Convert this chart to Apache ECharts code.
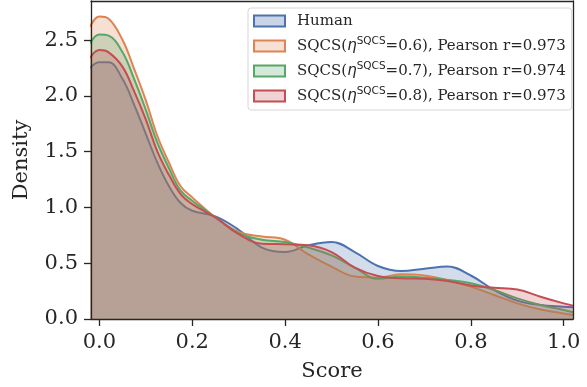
<!DOCTYPE html>
<html>
<head>
<meta charset="utf-8">
<script src="https://cdn.jsdelivr.net/npm/echarts@6/dist/echarts.min.js"></script>
<style>
  html, body { margin: 0; padding: 0; background: #fff; }
  #chart { width: 587px; height: 387px; }
</style>
</head>
<body>
<div id="chart"></div>
<script>
// KDE curves
const xs = [-0.02, 0, 0.02, 0.05, 0.075, 0.1, 0.125, 0.15, 0.175, 0.2, 0.25, 0.3, 0.35, 0.4, 0.45,
  0.5, 0.55, 0.6, 0.65, 0.7, 0.75, 0.8, 0.85, 0.9, 0.95, 1.0, 1.02];
const human = [2.25, 2.30, 2.30, 2.15, 1.92, 1.66, 1.40, 1.19, 1.04, 0.97, 0.92, 0.80, 0.64, 0.60, 0.66,
  0.69, 0.60, 0.475, 0.43, 0.45, 0.47, 0.39, 0.26, 0.165, 0.125, 0.11, 0.105];
const sqcs06 = [2.62, 2.71, 2.69, 2.50, 2.24, 1.96, 1.64, 1.40, 1.19, 1.09, 0.91, 0.78, 0.74, 0.71, 0.58,
  0.47, 0.38, 0.37, 0.40, 0.39, 0.35, 0.29, 0.215, 0.14, 0.085, 0.05, 0.035];
const sqcs07 = [2.47, 2.55, 2.54, 2.39, 2.15, 1.875, 1.58, 1.35, 1.15, 1.06, 0.91, 0.77, 0.71, 0.69, 0.64,
  0.57, 0.46, 0.36, 0.38, 0.37, 0.35, 0.32, 0.26, 0.185, 0.125, 0.08, 0.06];
const sqcs08 = [2.34, 2.41, 2.39, 2.26, 2.04, 1.79, 1.50, 1.29, 1.12, 1.03, 0.91, 0.76, 0.675, 0.67, 0.66,
  0.60, 0.46, 0.385, 0.365, 0.36, 0.34, 0.30, 0.28, 0.265, 0.20, 0.14, 0.12];

const etas = ["0.6", "0.7", "0.8"];
const pearson = ["0.973", "0.974", "0.973"];
const xTicks = [0, 0.2, 0.4, 0.6, 0.8, 1.0];
const yTicks = [0, 0.5, 1.0, 1.5, 2.0, 2.5];

const colors = ["#4C72B0", "#DD8452", "#55A868", "#C44E52"];
const fills = ["rgba(76,114,176,0.3)", "rgba(221,132,82,0.25)", "rgba(85,168,104,0.25)", "rgba(196,78,82,0.25)"];
const names = ["Human", "SQCS 0.6", "SQCS 0.7", "SQCS 0.8"];
const curves = [human, sqcs06, sqcs07, sqcs08];

const ink = "#262626";
const serif = "DejaVu Serif";

const chart = echarts.init(document.getElementById("chart"));

// later series sit on top, so their fills tint the earlier lines
const series = curves.map((vals, i) => ({
  name: names[i],
  type: "line",
  z: 2 + i,
  data: xs.map((x, j) => [x, vals[j]]),
  smooth: 0.4,
  showSymbol: false,
  lineStyle: { color: colors[i], width: 2 },
  itemStyle: { color: colors[i] },
  areaStyle: { color: colors[i], opacity: 0.25 },
  emphasis: { disabled: true },
}));

const frameAxis = {
  show: true,
  axisLine: { show: true, onZero: false, lineStyle: { color: ink, width: 1.3 } },
  axisTick: { show: false },
  axisLabel: { show: false },
  splitLine: { show: false },
  z: 10,
};

chart.setOption({
  animation: false,
  grid: { left: 91, right: 14, top: 1, bottom: 67 },
  legend: {
    left: 248,
    top: 8,
    z: 20,
    orient: "vertical",
    icon: "rect",
    itemWidth: 31,
    itemHeight: 11,
    itemGap: 5,
    padding: [3, 6, 4, 5],
    backgroundColor: "#fff",
    borderColor: "#d6d6d6",
    borderWidth: 1,
    borderRadius: 3,
    data: names.map((n, i) => ({
      name: n,
      itemStyle: { color: fills[i], borderColor: colors[i], borderWidth: 2 },
    })),
    formatter: (name) => {
      const i = names.indexOf(name);
      if (i === 0) return "{t|Human}";
      return "{t|SQCS(}{eta|η}{sup|SQCS}{t|=" + etas[i - 1] + "), Pearson r=" + pearson[i - 1] + "}";
    },
    textStyle: {
      color: ink,
      padding: [0, 0, 0, 7],
      lineHeight: 20,
      rich: {
        t: { fontFamily: serif, fontSize: 15, color: ink, lineHeight: 20 },
        eta: { fontFamily: "DejaVu Sans", fontStyle: "italic", fontSize: 15, color: ink, lineHeight: 20 },
        sup: { fontFamily: "DejaVu Sans", fontSize: 10.5, color: ink, padding: [0, 0, 9, 0], lineHeight: 20 },
      },
    },
  },
  xAxis: [
    {
      type: "value",
      min: -0.018,
      max: 1.02,
      name: "Score",
      nameLocation: "middle",
      nameGap: 42,
      nameTextStyle: { fontFamily: serif, fontSize: 21, color: ink },
      axisLine: { show: true, onZero: false, lineStyle: { color: ink, width: 1.3 } },
      axisTick: { show: true, length: 7, lineStyle: { color: ink, width: 1.3 }, customValues: xTicks },
      axisLabel: {
        customValues: xTicks,
        formatter: (v) => v.toFixed(1),
        fontFamily: serif,
        fontSize: 21,
        color: ink,
        margin: 13,
      },
      splitLine: { show: false },
      z: 10,
    },
    Object.assign({ type: "value", position: "top", min: -0.018, max: 1.02 }, frameAxis),
  ],
  yAxis: [
    {
      type: "value",
      min: 0,
      max: 2.85,
      name: "Density",
      nameLocation: "middle",
      nameGap: 59,
      nameTextStyle: { fontFamily: serif, fontSize: 21, color: ink },
      axisLine: { show: true, onZero: false, lineStyle: { color: ink, width: 1.3 } },
      axisTick: { show: true, length: 7, lineStyle: { color: ink, width: 1.3 }, customValues: yTicks },
      axisLabel: {
        customValues: yTicks,
        formatter: (v) => v.toFixed(1),
        fontFamily: serif,
        fontSize: 21,
        color: ink,
        margin: 13,
      },
      splitLine: { show: false },
      z: 10,
    },
    Object.assign({ type: "value", position: "right", min: 0, max: 2.85 }, frameAxis),
  ],
  series: series,
});
</script>
</body>
</html>
